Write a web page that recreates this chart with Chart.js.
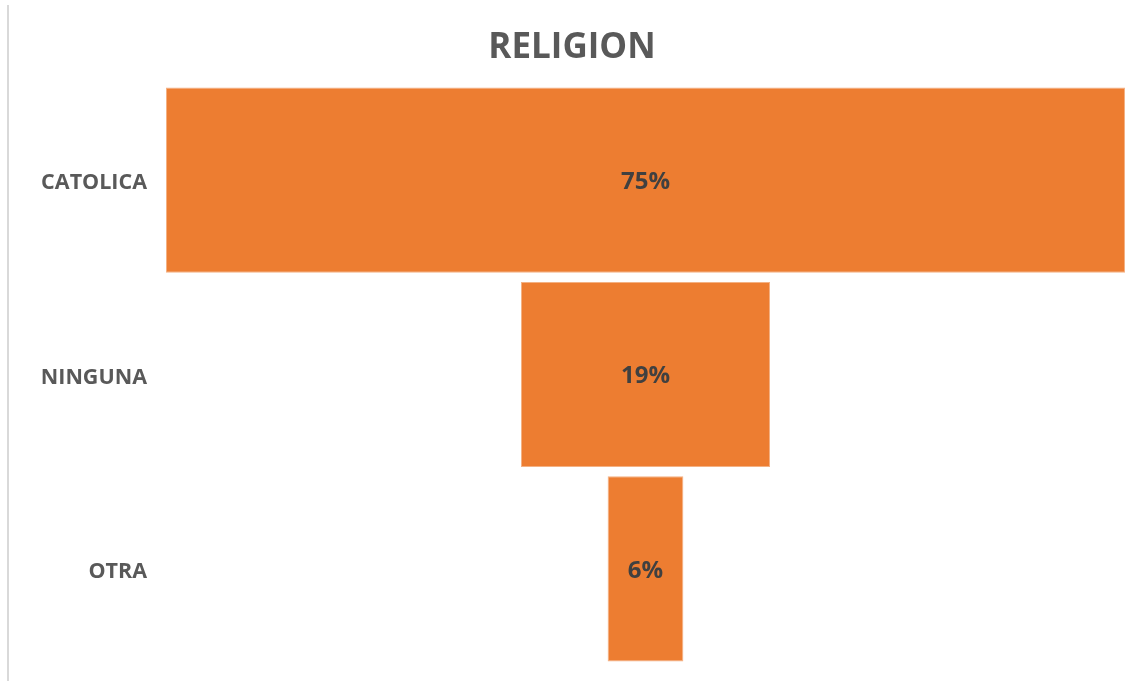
<!DOCTYPE html>
<html>
<head>
<meta charset="utf-8">
<script src="https://cdn.jsdelivr.net/npm/chart.js@4"></script>
<style>
  html, body { margin: 0; padding: 0; background: #ffffff; overflow: hidden; }
  #wrap { position: relative; width: 1137px; height: 681px; }
</style>
</head>
<body>
<div id="wrap"><canvas id="religionChart"></canvas></div>
<script>
// Data for the funnel
const categories = ["CATOLICA", "NINGUNA", "OTRA"];
const percentValues = [74.7, 19.4, 5.9];
const valueLabels = percentValues.map((v) => Math.round(v) + "%");

const maxValue = Math.max(...percentValues);

// each bar is centered on 0 so the stack looks like a funnel
const funnelRanges = percentValues.map((v) => [-v / 2, v / 2]);

const ctx = document.getElementById("religionChart").getContext("2d");

// thin grey line on the left edge of the picture
const edgeLine = {
  id: "edgeLine",
  beforeDraw(chart) {
    const c = chart.ctx;
    c.save();
    c.strokeStyle = "#d9d9d9";
    c.lineWidth = 2;
    c.beginPath();
    c.moveTo(8, 5);
    c.lineTo(8, chart.height);
    c.stroke();
    c.restore();
  },
};

// percentage text in the middle of each bar
const barLabels = {
  id: "barLabels",
  afterDatasetsDraw(chart) {
    const c = chart.ctx;
    const meta = chart.getDatasetMeta(0);
    c.save();
    c.fillStyle = "#404040";
    c.font = "bold 24px 'Open Sans'";
    c.textAlign = "center";
    c.textBaseline = "middle";
    meta.data.forEach((bar, i) => {
      const { x, base, y } = bar.getProps(["x", "base", "y"], true);
      c.fillText(valueLabels[i], (x + base) / 2, y + 2);
    });
    c.restore();
  },
};

new Chart(ctx, {
  type: "bar",
  data: {
    labels: categories,
    datasets: [
      {
        label: "RELIGION",
        data: funnelRanges,
        backgroundColor: "#ED7D31",
        borderColor: "#F4B183",
        borderWidth: 1,
        borderSkipped: false,
        categoryPercentage: 1,
        barPercentage: 0.953,
      },
    ],
  },
  options: {
    indexAxis: "y",
    responsive: true,
    maintainAspectRatio: false,
    animation: false,
    layout: {
      padding: { left: 7, right: 0, top: 0, bottom: 15 },
    },
    plugins: {
      legend: { display: false },
      tooltip: { enabled: false },
      title: {
        display: true,
        text: "RELIGION",
        color: "#595959",
        font: { family: "'Open Sans'", size: 35, weight: "bold" },
        padding: { top: 27, bottom: 14 },
      },
    },
    scales: {
      x: {
        display: false,
        min: -maxValue / 2,
        max: maxValue / 2,
      },
      y: {
        grid: { display: false },
        border: { display: false },
        ticks: {
          color: "#595959",
          padding: 11,
          labelOffset: 3,
          font: { family: "'Open Sans'", size: 21.5, weight: "bold" },
        },
        afterFit(scale) {
          scale.width = 159;
          // labels sit in the middle of the bands, no need for extra room
          scale.paddingTop = 0;
          scale.paddingBottom = 0;
        },
      },
      // empty axis on the right, only keeps a small margin
      yRight: {
        type: "category",
        position: "right",
        grid: { display: false },
        border: { display: false },
        ticks: { display: false },
        afterFit(scale) {
          scale.width = 12;
          scale.paddingTop = 0;
          scale.paddingBottom = 0;
        },
      },
    },
  },
  plugins: [edgeLine, barLabels],
});
</script>
</body>
</html>
